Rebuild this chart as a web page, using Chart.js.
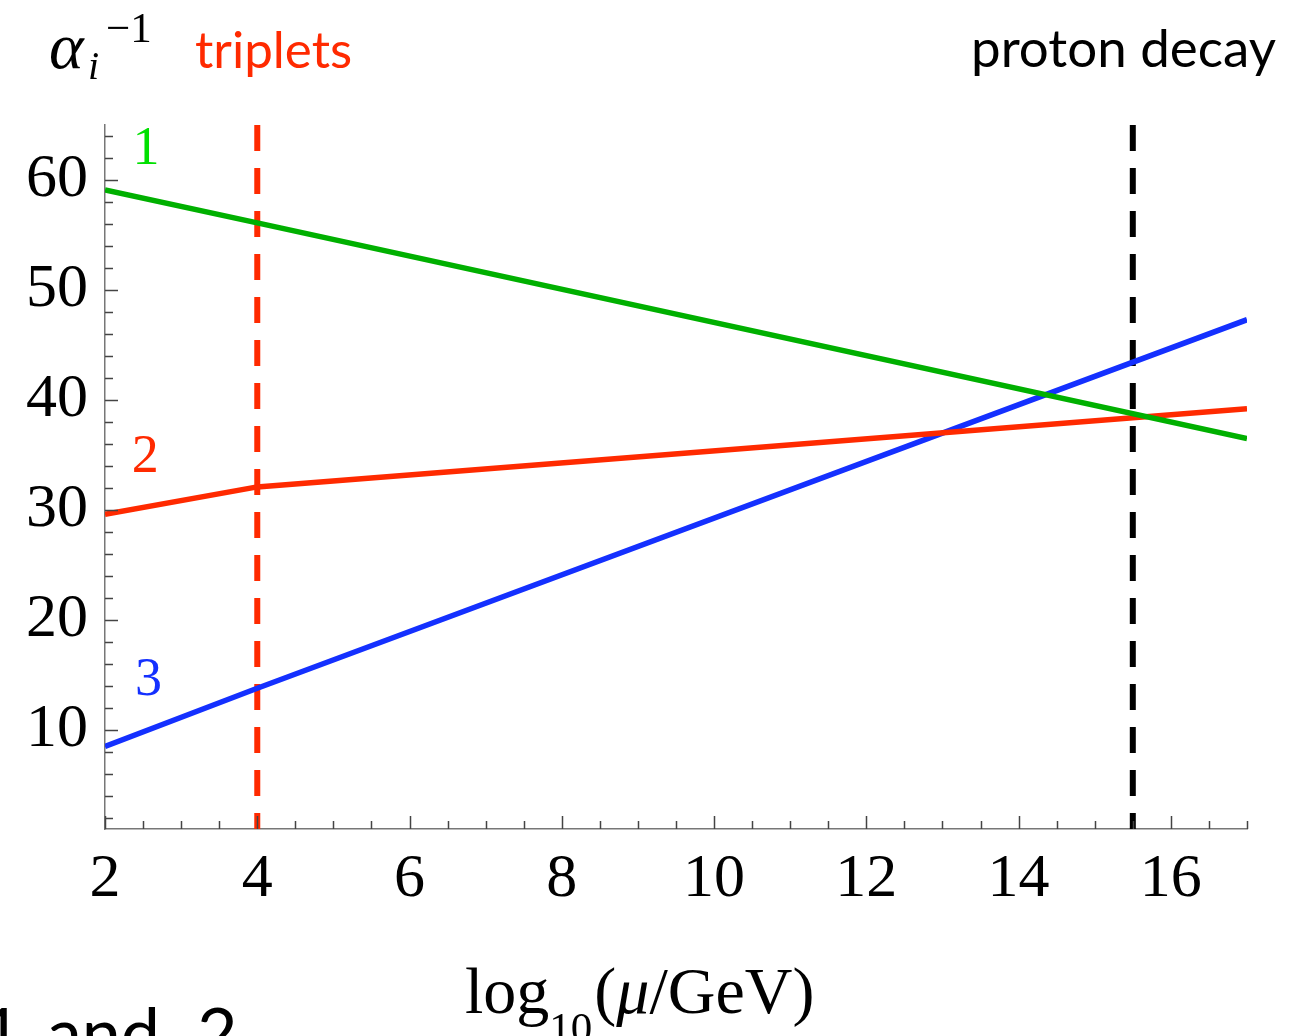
<!DOCTYPE html>
<html>
<head>
<meta charset="utf-8">
<script src="https://cdn.jsdelivr.net/npm/chart.js@4.4.1/dist/chart.umd.min.js"></script>
<style>
  html, body { margin: 0; padding: 0; background: #fff; }
  #wrap { width: 1309px; height: 1036px; }
</style>
</head>
<body>
<div id="wrap"><canvas id="myChart" width="1309" height="1036"></canvas></div>
<script>
// inverse gauge couplings vs energy scale
const logMu = [2, 4, 17];
const alpha1Inv = [59.1, 56.1, 36.5];
const alpha2Inv = [29.6, 32.1, 39.2];
const alpha3Inv = [8.5, 13.8, 47.3];
const tripletScale = 4;
const protonDecayScale = 15.5;
const xRange = [2, 17];
const yRange = [1, 65];
const xMajorTicks = [2, 4, 6, 8, 10, 12, 14, 16];
const yMajorTicks = [10, 20, 30, 40, 50, 60];
const curveNames = ['1', '2', '3'];

const GREEN = '#00b000';
const RED = '#ff2a00';
const BLUE = '#1430ff';

// minor ticks every 0.5 on x, every 2 on y
const xAllTicks = [];
for (let v = xRange[0]; v <= xRange[1]; v += 0.5) xAllTicks.push(v);
const yAllTicks = [];
for (let v = 2; v < yRange[1]; v += 2) yAllTicks.push(v);

function toPoints(ys) {
  return ys.map((y, i) => ({ x: logMu[i], y: y }));
}

function vline(x) {
  return [{ x: x, y: yRange[1] }, { x: x, y: yRange[0] }];
}

// Mathematica-style ticks pointing into the plot
const innerTicks = {
  id: 'innerTicks',
  afterDatasetsDraw(chart) {
    const ctx = chart.ctx;
    const xs = chart.scales.x, ys = chart.scales.y;
    const area = chart.chartArea;
    ctx.save();
    ctx.strokeStyle = '#444';
    ctx.lineWidth = 1.5;
    ctx.beginPath();
    xAllTicks.forEach(v => {
      const px = Math.round(xs.getPixelForValue(v)) + 0.5;
      const len = xMajorTicks.includes(v) ? 13 : 8;
      ctx.moveTo(px, area.bottom);
      ctx.lineTo(px, area.bottom - len);
    });
    yAllTicks.forEach(v => {
      const py = Math.round(ys.getPixelForValue(v)) + 0.5;
      const len = yMajorTicks.includes(v) ? 13 : 8;
      ctx.moveTo(area.left, py);
      ctx.lineTo(area.left + len, py);
    });
    ctx.stroke();
    ctx.restore();
  }
};

// labels on the curves, axis captions and the two threshold captions
const captions = {
  id: 'captions',
  afterDraw(chart) {
    const ctx = chart.ctx;
    const xs = chart.scales.x, ys = chart.scales.y;
    ctx.save();

    const labelAt = [[2.54, 62.7], [2.53, 34.7], [2.57, 14.5]];
    const labelColors = ['#00e000', RED, BLUE];
    ctx.font = '54px "Liberation Serif"';
    ctx.textAlign = 'center';
    ctx.textBaseline = 'middle';
    curveNames.forEach((name, i) => {
      ctx.fillStyle = labelColors[i];
      ctx.fillText(name, xs.getPixelForValue(labelAt[i][0]), ys.getPixelForValue(labelAt[i][1]));
    });

    ctx.textAlign = 'left';
    ctx.textBaseline = 'alphabetic';
    ctx.fillStyle = '#000';

    // alpha_i^{-1}
    ctx.font = 'italic 66px "Liberation Serif"';
    ctx.fillText('α', 49, 68);
    ctx.font = 'italic 40px "Liberation Serif"';
    ctx.fillText('i', 88, 79);
    ctx.font = '43px "Liberation Serif"';
    ctx.fillText('\u22121', 106, 42);

    // sans captions fitted to their widths
    function fitText(text, x, baseline, width, color) {
      ctx.font = '48px Lato';
      const w = ctx.measureText(text).width;
      ctx.font = (48 * width / w).toFixed(1) + 'px Lato';
      ctx.fillStyle = color;
      ctx.fillText(text, x, baseline);
    }
    fitText('triplets', 195, 68, 157, RED);
    fitText('proton decay', 971, 67, 305, '#000');

    // log10(mu/GeV)
    ctx.fillStyle = '#000';
    let x = 465;
    ctx.font = '66px "Liberation Serif"';
    ctx.fillText('log', x, 1013);
    x += ctx.measureText('log').width;
    ctx.font = '43px "Liberation Serif"';
    ctx.fillText('10', x, 1042);
    x += ctx.measureText('10').width + 2;
    ctx.font = '66px "Liberation Serif"';
    ctx.fillText('(', x, 1013);
    x += ctx.measureText('(').width;
    ctx.font = 'italic 66px "Liberation Serif"';
    ctx.fillText('μ', x, 1013);
    x += ctx.measureText('μ').width;
    ctx.font = '66px "Liberation Serif"';
    ctx.fillText('/GeV)', x, 1013);

    // caption running off the bottom edge
    ctx.font = '70px Lato';
    ctx.fillText('1', -19, 1058);
    ctx.fillText('and', 47, 1058);
    ctx.fillText('2', 197, 1058);

    ctx.restore();
  }
};

const ctx = document.getElementById('myChart').getContext('2d');
const myChart = new Chart(ctx, {
  type: 'line',
  data: {
    datasets: [
      { data: toPoints(alpha1Inv), borderColor: GREEN, borderWidth: 5.5 },
      { data: toPoints(alpha2Inv), borderColor: RED, borderWidth: 5.5 },
      { data: toPoints(alpha3Inv), borderColor: BLUE, borderWidth: 5.5 },
      { data: vline(tripletScale), borderColor: RED, borderWidth: 6, borderDash: [26, 17] },
      { data: vline(protonDecayScale), borderColor: '#000', borderWidth: 6, borderDash: [26, 17] }
    ]
  },
  options: {
    responsive: false,
    animation: false,
    events: [],
    layout: { padding: { top: 125, right: 62, left: 0, bottom: 0 } },
    elements: {
      point: { radius: 0 },
      line: { tension: 0, borderCapStyle: 'butt', fill: false }
    },
    plugins: {
      legend: { display: false },
      tooltip: { enabled: false }
    },
    scales: {
      x: {
        type: 'linear',
        min: xRange[0],
        max: xRange[1],
        afterBuildTicks: (scale) => { scale.ticks = xAllTicks.map(v => ({ value: v })); },
        afterFit: (scale) => { scale.height = 207; },
        grid: { display: false, drawTicks: false },
        border: { display: true, color: '#777', width: 1.5 },
        ticks: {
          autoSkip: false,
          maxRotation: 0,
          padding: 14,
          color: '#000',
          font: { family: 'Liberation Serif', size: 62 },
          callback: (v) => xMajorTicks.includes(v) ? String(v) : ''
        }
      },
      y: {
        type: 'linear',
        min: yRange[0],
        max: yRange[1],
        afterBuildTicks: (scale) => { scale.ticks = yAllTicks.map(v => ({ value: v })); },
        afterFit: (scale) => { scale.width = 105; },
        grid: { display: false, drawTicks: false },
        border: { display: true, color: '#777', width: 1.5 },
        ticks: {
          autoSkip: false,
          padding: 17,
          color: '#000',
          font: { family: 'Liberation Serif', size: 62 },
          callback: (v) => yMajorTicks.includes(v) ? String(v) : ''
        }
      }
    }
  },
  plugins: [innerTicks, captions]
});
</script>
</body>
</html>
